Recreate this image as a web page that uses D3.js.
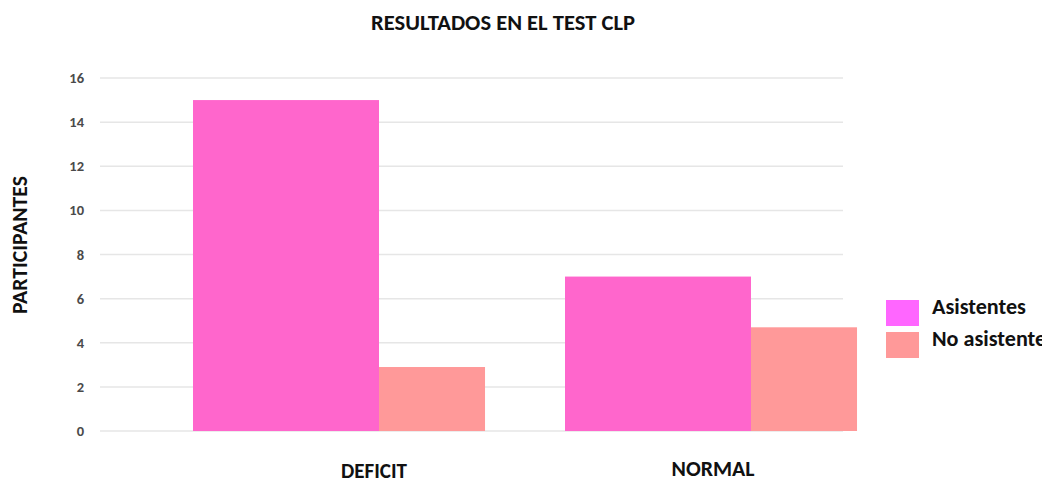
<!DOCTYPE html>
<html>
<head>
<meta charset="utf-8">
<script src="https://cdn.jsdelivr.net/npm/d3@7"></script>
<style>
  body { margin: 0; background: #fff; }
  svg text { font-family: Carlito, Lato, "Open Sans", sans-serif; }
</style>
</head>
<body>
<svg id="chart"></svg>
<script>
// data
const categories = ["DEFICIT", "NORMAL"];
const seriesNames = ["Asistentes", "No asistentes"];
const asistentes = [15, 7];
const noAsistentes = [2.9, 4.7];
const yTicks = [0, 2, 4, 6, 8, 10, 12, 14, 16];

const width = 1042;
const height = 484;

const svg = d3.select("#chart")
    .attr("width", width)
    .attr("height", height);

// scale font size so a text gets the width it has in the picture
function fitWidth(sel, target) {
    sel.each(function() {
        const fs = parseFloat(this.getAttribute("font-size"));
        const w = this.getComputedTextLength();
        if (w > 0) this.setAttribute("font-size", (fs * target / w).toFixed(2) + "px");
    });
}

const y = d3.scaleLinear()
    .domain([0, 16])
    .range([431, 78]);

const x = d3.scaleBand()
    .domain(categories)
    .range([193, 937])
    .paddingInner(0)
    .paddingOuter(0);

const barColors = ["#ff66cc", "#ff9999"];
const legendColors = ["#ff66ff", "#ff9999"];
const widthFrac = [0.5, 0.285];

// gridlines
svg.append("g")
    .selectAll("line")
    .data(yTicks)
    .join("line")
    .attr("x1", 100)
    .attr("x2", 843)
    .attr("y1", d => y(d))
    .attr("y2", d => y(d))
    .attr("stroke", "#e6e6e6")
    .attr("stroke-width", 1.5);

// y tick labels
svg.append("g")
    .selectAll("text")
    .data(yTicks)
    .join("text")
    .attr("x", 84)
    .attr("y", d => y(d) + 5)
    .attr("text-anchor", "end")
    .attr("font-size", "14.5px")
    .attr("font-weight", 700)
    .attr("fill", "#4a4a4a")
    .text(d => d);

// bars
const rows = categories.map((c, i) => ({cat: c, vals: [asistentes[i], noAsistentes[i]]}));
const groups = svg.append("g")
    .selectAll("g")
    .data(rows)
    .join("g")
    .attr("transform", d => `translate(${x(d.cat)},0)`);

groups.selectAll("rect")
    .data(d => d.vals.map((v, j) => ({v, j})))
    .join("rect")
    .attr("x", d => d.j === 0 ? 0 : x.bandwidth() * widthFrac[0])
    .attr("width", d => x.bandwidth() * widthFrac[d.j])
    .attr("y", d => y(d.v))
    .attr("height", d => y(0) - y(d.v))
    .attr("fill", d => barColors[d.j]);

// category labels (they sit a bit unevenly in the picture)
const labelDx = {DEFICIT: 181, NORMAL: 148};
const labelY = {DEFICIT: 478, NORMAL: 476};
const labelW = {DEFICIT: 66, NORMAL: 83};
svg.append("g")
    .selectAll("text")
    .data(categories)
    .join("text")
    .attr("x", d => x(d) + labelDx[d])
    .attr("y", d => labelY[d])
    .attr("text-anchor", "middle")
    .attr("font-size", "17px")
    .attr("font-weight", 700)
    .attr("fill", "#111")
    .text(d => d)
    .each(function(d) { fitWidth(d3.select(this), labelW[d]); });

// title
svg.append("text")
    .attr("x", 503)
    .attr("y", 30)
    .attr("text-anchor", "middle")
    .attr("font-size", "18px")
    .attr("font-weight", 700)
    .attr("fill", "#111")
    .text("RESULTADOS EN EL TEST CLP")
    .call(fitWidth, 264);

// y axis title
svg.append("text")
    .attr("transform", "translate(27,245) rotate(-90)")
    .attr("text-anchor", "middle")
    .attr("font-size", "17px")
    .attr("font-weight", 700)
    .attr("fill", "#111")
    .text("PARTICIPANTES")
    .call(fitWidth, 138);

// legend
const legend = svg.append("g")
    .selectAll("g")
    .data(seriesNames)
    .join("g")
    .attr("transform", (d, i) => `translate(886,${300 + i * 32})`);

legend.append("rect")
    .attr("width", 33)
    .attr("height", 26)
    .attr("fill", (d, i) => legendColors[i]);

const legendText = legend.append("text")
    .attr("x", 46)
    .attr("y", 13.5)
    .attr("font-size", "18px")
    .attr("font-weight", 700)
    .attr("fill", "#111")
    .text(d => d);

// size both entries from the first one, the second runs off the edge as in the picture
const first = legendText.filter((d, i) => i === 0);
first.call(fitWidth, 94);
legendText.attr("font-size", first.attr("font-size"));
</script>
</body>
</html>
